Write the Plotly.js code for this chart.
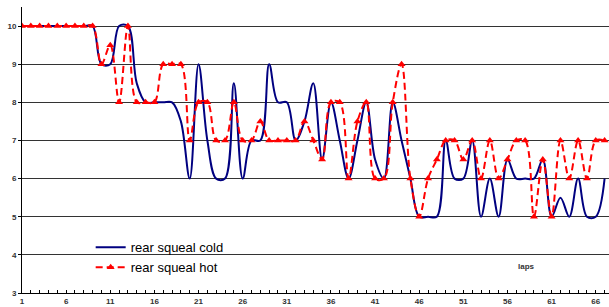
<!DOCTYPE html>
<html><head><meta charset="utf-8">
<script src="https://cdn.plot.ly/plotly-3.0.1.min.js"></script>
<style>html,body{margin:0;padding:0;background:#fff;}#chart{width:609px;height:307px;}</style>
</head><body><div id="chart"></div>
<script>
const laps = [1,2,3,4,5,6,7,8,9,10,11,12,13,14,15,16,17,18,19,20,21,22,23,24,25,26,27,28,29,30,31,32,33,34,35,36,37,38,39,40,41,42,43,44,45,46,47,48,49,50,51,52,53,54,55,56,57,58,59,60,61,62,63,64,65,66,67];
const rearSquealCold = [10,10,10,10,10,10,10,10,10,9,9,10,10,8.5,8,8,8,8,7.5,6,9,7,6,6,8.5,6,7,7,9,8,8,7,7.5,8.5,6.5,8,7,6,7,8,6.5,6,8,7,6,5,5,5,7,6,6,7,5,6,5,6.5,6,6,6,6.5,5,5.5,5,6,5,5,6];
const rearSquealHot = [10,10,10,10,10,10,10,10,10,9,9.5,8,10,8,8,8,9,9,9,7,8,8,7,7,8,7,7,7.5,7,7,7,7,7.5,7,6.5,8,8,6,7.5,8,6,6,8,9,6,5,6,6.5,7,7,6.5,7,6,7,6,6.5,7,7,5,6.5,5,7,6,7,6,7,7];
const xTickVals = [1,6,11,16,21,26,31,36,41,46,51,56,61,66];
const yTickVals = [3,4,5,6,7,8,9,10];
const seriesNames = ['rear squeal cold','rear squeal hot'];
const axisTitle = 'laps';

const traces = [
  {x: laps, y: rearSquealCold, name: seriesNames[0], type:'scatter', mode:'lines',
   line:{color:'#000080', width:2, shape:'spline', smoothing:1}},
  {x: laps, y: rearSquealHot, name: seriesNames[1], type:'scatter', mode:'lines+markers',
   line:{color:'#ff0000', width:2, shape:'spline', smoothing:1, dash:'7px,4px'},
   marker:{symbol:'triangle-up', size:7, color:'#ff0000'}}
];
const layout = {
  width:609, height:307,
  margin:{l:22, r:0, t:7, b:14, pad:0},
  paper_bgcolor:'#fff', plot_bgcolor:'#fff',
  font:{family:'Liberation Sans, Arial, sans-serif', size:8, color:'#333'},
  showlegend:true,
  legend:{x:0.117, y:0.212, xanchor:'left', yanchor:'top', bgcolor:'rgba(0,0,0,0)',
    font:{size:13, color:'#000'}, tracegroupgap:0, itemwidth:30},
  xaxis:{range:[1,67.5], tickvals:xTickVals, ticktext:xTickVals.map(String), showgrid:false, zeroline:false,
    showline:true, linecolor:'#000', linewidth:1, ticks:'inside', ticklen:3, tickcolor:'#000',
    minor:{dtick:1, tick0:1, ticks:'inside', ticklen:3, tickcolor:'#000', showgrid:false},
    tickfont:{size:8, color:'#333', family:'Liberation Sans, Arial, sans-serif', weight:'bold'}},
  yaxis:{range:[3,10.5], tickvals:yTickVals, showgrid:true, gridcolor:'#333', gridwidth:1, zeroline:false,
    showline:true, linecolor:'#000', linewidth:1, ticks:'outside', ticklen:3, tickcolor:'#000',
    tickfont:{size:8, color:'#333', family:'Liberation Sans, Arial, sans-serif', weight:'bold'}},
  shapes:[{type:'rect', xref:'paper', yref:'paper', x0:(66-22)/587, x1:(258-22)/587, y0:0.115, y1:0.22,
    fillcolor:'#fff', line:{width:0}, layer:'between'}],
  annotations:[{text:axisTitle, xref:'paper', yref:'paper', x:(537-22)/587, y:(293-273)/286, showarrow:false,
    font:{size:8, color:'#333', weight:'bold'}}]
};
Plotly.newPlot('chart', traces, layout, {displayModeBar:false, staticPlot:true});
</script></body></html>
